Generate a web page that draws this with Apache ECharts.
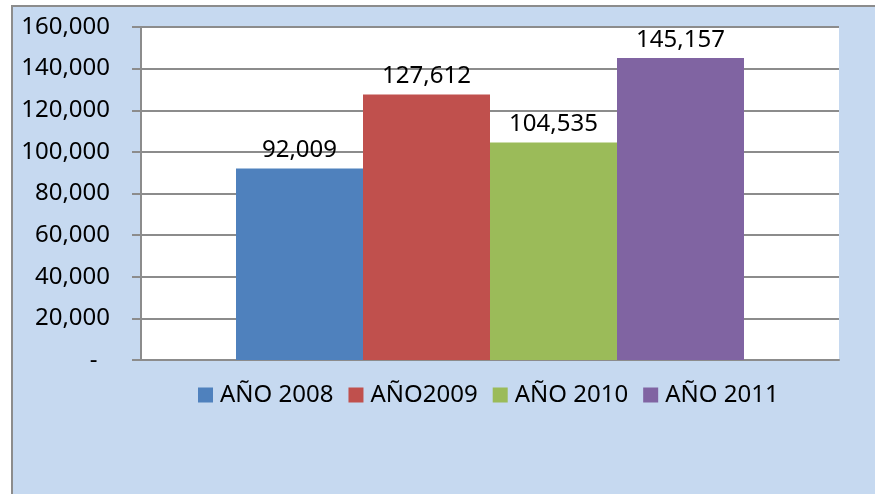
<!DOCTYPE html>
<html>
<head>
<meta charset="utf-8">
<script src="https://cdn.jsdelivr.net/npm/echarts@6/dist/echarts.min.js"></script>
<style>
  html, body { margin: 0; padding: 0; background: #ffffff; }
  #chart { width: 875px; height: 494px; }
</style>
</head>
<body>
<div id="chart"></div>
<script>
const seriesNames = ['AÑO 2008', 'AÑO2009', 'AÑO 2010', 'AÑO 2011']
const seriesValues = [92009, 127612, 104535, 145157]
const seriesColors = ['#4f81bd', '#c0504d', '#9bbb59', '#8064a2']
const yTicks = [0, 20000, 40000, 60000, 80000, 100000, 120000, 140000, 160000]

const fontFamily = '"Noto Sans", "DejaVu Sans", sans-serif'

function fmt(v) {
  if (v === 0) return '-  '
  return String(v).replace(/\B(?=(\d{3})+(?!\d))/g, ',')
}

const chart = echarts.init(document.getElementById('chart'))
const option = {
  animation: false,
  backgroundColor: '#ffffff',
  graphic: [
    {
      type: 'rect',
      z: -10,
      shape: { x: 12, y: 6, width: 880, height: 500 },
      style: { fill: '#c6d9f0', stroke: '#8c8c8c', lineWidth: 2 }
    },
    {
      type: 'rect',
      z: -5,
      shape: { x: 141, y: 27, width: 698, height: 333 },
      style: { fill: '#ffffff' }
    }
  ],
  legend: {
    top: 378,
    left: 193,
    itemWidth: 15,
    itemHeight: 15,
    itemGap: 15,
    icon: 'rect',
    textStyle: { fontFamily: fontFamily, fontSize: 24, color: '#000', padding: [0, 0, 0, 2] },
    data: seriesNames
  },
  grid: {
    left: 141,
    right: 36,
    top: 27,
    bottom: 134,
    containLabel: false
  },
  xAxis: {
    type: 'category',
    data: [''],
    axisLine: { show: true, lineStyle: { color: '#8c8c8c', width: 2 } },
    axisTick: { show: false },
    axisLabel: { show: false }
  },
  yAxis: {
    type: 'value',
    min: 0,
    max: 160000,
    interval: 20000,
    axisLine: { show: true, lineStyle: { color: '#8c8c8c', width: 2 } },
    axisTick: { show: true, inside: false, length: 9, lineStyle: { color: '#8c8c8c', width: 2 } },
    splitLine: { show: true, lineStyle: { color: '#8c8c8c', width: 2 } },
    axisLabel: {
      margin: 31,
      fontFamily: fontFamily,
      fontSize: 24,
      color: '#000',
      formatter: function(v) { return yTicks.indexOf(v) >= 0 ? fmt(v) : '' }
    }
  },
  series: seriesNames.map(function(name, i) {
    return {
      name: name,
      type: 'bar',
      barWidth: 127,
      barGap: '0%',
      itemStyle: { color: seriesColors[i] },
      label: {
        show: true,
        position: 'top',
        distance: 6,
        fontFamily: fontFamily,
        fontSize: 24,
        color: '#000',
        formatter: function(p) { return fmt(p.value) }
      },
      data: [seriesValues[i]]
    }
  })
}
chart.setOption(option, true)
window.onresize = () => {
  chart.resize()
}
</script>
</body>
</html>
